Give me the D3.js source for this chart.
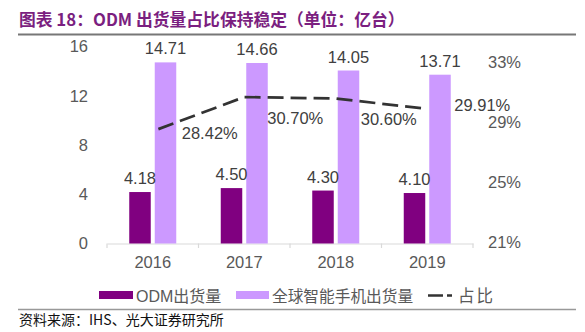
<!DOCTYPE html>
<html><head><meta charset="utf-8">
<script src="https://cdn.jsdelivr.net/npm/d3@7/dist/d3.min.js"></script>
<style>body{margin:0;background:#fff}svg{display:block}</style>
</head><body><svg id="c" width="585" height="332"></svg>
<script>
const categories = ["2016","2017","2018","2019"];
const odm = [4.18, 4.50, 4.30, 4.10];
const global = [14.71, 14.66, 14.05, 13.71];
const share = [28.42, 30.70, 30.60, 29.91];
const leftTicks = [0,4,8,12,16];
const rightTicks = [21,25,29,33];
const seriesNames = ["ODM出货量","全球智能手机出货量","占比"];
const titleText = "图表 18：ODM 出货量占比保持稳定（单位：亿台）";
const sourceText = "资料来源：IHS、光大证券研究所";

const svg = d3.select("#c");
const font = "'Liberation Sans', Arial, 'Noto Sans CJK SC', sans-serif";
const cjk = "'Noto Sans CJK SC', sans-serif";
const fs = 16.5;

// title
svg.append("text").attr("x",19).attr("y",25.5).attr("fill","#7B1F80")
  .attr("font-family",cjk).attr("font-weight","bold").attr("font-size",16.8)
  .text(titleText);
svg.append("line").attr("x1",18).attr("x2",576).attr("y1",34.5).attr("y2",34.5)
  .attr("stroke","#777").attr("stroke-width",1.8);

const x = d3.scaleBand().domain(categories).range([107,473]);
const yL = d3.scaleLinear().domain([0,16]).range([243.5,46.5]);
const yR = d3.scaleLinear().domain([21,34.07]).range([242.5,46.5]);

// left axis labels
const gl = svg.append("g").attr("transform","translate(88,0)")
  .call(d3.axisLeft(yL).tickValues(leftTicks).tickSize(0).tickPadding(0));
gl.select(".domain").remove();
gl.selectAll("text").attr("font-family",font).attr("font-size",fs).attr("fill","#595959");

const gr = svg.append("g").attr("transform","translate(488,0)")
  .call(d3.axisRight(yR).tickValues(rightTicks).tickSize(0).tickPadding(0).tickFormat(d=>d+"%"));
gr.select(".domain").remove();
gr.selectAll("text").attr("font-family",font).attr("font-size",fs).attr("fill","#595959");

// bottom axis
const gx = svg.append("g").attr("transform","translate(0,243.5)")
  .call(d3.axisBottom(x).tickSize(0).tickPadding(13));
gx.select(".domain").attr("stroke","#d9d9d9").attr("stroke-width",1.2);
gx.selectAll("text").attr("font-family",font).attr("font-size",fs).attr("fill","#595959");
// category separators
const bounds = categories.map(c=>x(c)).concat([x.range()[1]]);
svg.selectAll(".sep").data(bounds).enter().append("line")
  .attr("x1",d=>d).attr("x2",d=>d).attr("y1",243.5).attr("y2",248)
  .attr("stroke","#d9d9d9").attr("stroke-width",1.2);

const bw = 21.5, gap = 4;
const cx = c => x(c)+x.bandwidth()/2;

// bars
svg.selectAll(".b1").data(categories).enter().append("rect")
  .attr("x",(c)=>cx(c)-gap/2-bw).attr("width",bw)
  .attr("y",(c,i)=>yL(odm[i])).attr("height",(c,i)=>yL(0)-yL(odm[i]))
  .attr("fill","#800080");
svg.selectAll(".b2").data(categories).enter().append("rect")
  .attr("x",(c)=>cx(c)+gap/2).attr("width",bw)
  .attr("y",(c,i)=>yL(global[i])).attr("height",(c,i)=>yL(0)-yL(global[i]))
  .attr("fill","#CC99FF");

// bar labels
svg.selectAll(".l1").data(categories).enter().append("text")
  .attr("x",c=>cx(c)-gap/2-bw/2).attr("y",(c,i)=>yL(odm[i])-8)
  .attr("text-anchor","middle").attr("font-family",font).attr("font-size",fs).attr("fill","#404040")
  .text((c,i)=>odm[i].toFixed(2));
svg.selectAll(".l2").data(categories).enter().append("text")
  .attr("x",c=>cx(c)+gap/2+bw/2).attr("y",(c,i)=>yL(global[i])-8)
  .attr("text-anchor","middle").attr("font-family",font).attr("font-size",fs).attr("fill","#404040")
  .text((c,i)=>global[i].toFixed(2));

// line
const line = d3.line().x((d,i)=>cx(categories[i])).y(d=>yR(d));
svg.append("path").datum(share).attr("d",line).attr("fill","none")
  .attr("stroke","#333").attr("stroke-width",2.7).attr("stroke-dasharray","16,7")
  .attr("stroke-dashoffset",-6);

const offs = [[57,8],[51,27],[53,26],[55,2]];
svg.selectAll(".lp").data(categories).enter().append("text")
  .attr("x",(c,i)=>cx(c)+offs[i][0]).attr("y",(c,i)=>yR(share[i])+offs[i][1])
  .attr("text-anchor","middle").attr("font-family",font).attr("font-size",fs).attr("fill","#404040")
  .text((c,i)=>share[i].toFixed(2)+"%");

// legend
const lg = svg.append("g");
lg.append("rect").attr("x",99).attr("y",291).attr("width",34).attr("height",8).attr("fill","#800080");
lg.append("text").attr("x",136).attr("y",302).attr("font-family",font).attr("font-size",16).attr("fill","#595959").text(seriesNames[0]);
lg.append("rect").attr("x",236).attr("y",291).attr("width",33).attr("height",8).attr("fill","#CC99FF");
lg.append("text").attr("x",272).attr("y",302).attr("font-family",font).attr("font-size",15.7).attr("fill","#595959").text(seriesNames[1]);
lg.append("line").attr("x1",428).attr("x2",452).attr("y1",295.5).attr("y2",295.5)
  .attr("stroke","#333").attr("stroke-width",2.5).attr("stroke-dasharray","15,4,5,4");
lg.append("text").attr("x",458).attr("y",302).attr("font-family",font).attr("font-size",16.5)
  .attr("letter-spacing",2).attr("fill","#595959").text(seriesNames[2]);

svg.append("line").attr("x1",18).attr("x2",576).attr("y1",309.5).attr("y2",309.5)
  .attr("stroke","#999").attr("stroke-width",1.5);
svg.append("text").attr("x",19).attr("y",325).attr("font-family",cjk).attr("font-size",14).attr("fill","#111")
  .text(sourceText);
</script></body></html>
